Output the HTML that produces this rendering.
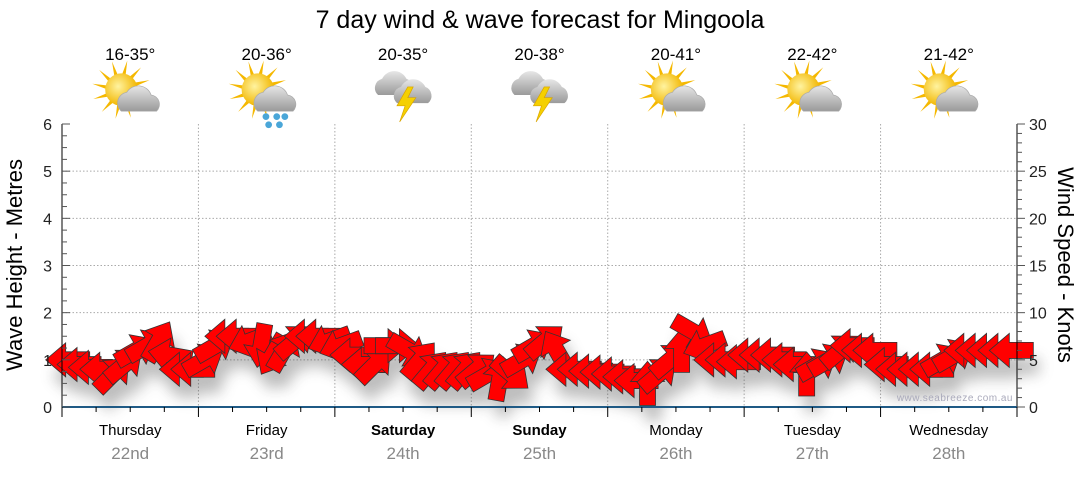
<!DOCTYPE html>
<html><head><meta charset="utf-8"><style>
body{margin:0;background:#fff;width:1080px;height:475px;overflow:hidden;font-family:"Liberation Sans",sans-serif}
</style></head><body>
<svg id="chart" width="1080" height="475" xmlns="http://www.w3.org/2000/svg" font-family="Liberation Sans, sans-serif">
<defs>
<filter id="sh" x="-50%" y="-50%" width="200%" height="200%"><feGaussianBlur stdDeviation="7"/></filter>
<radialGradient id="sun" cx="0.4" cy="0.4" r="0.6"><stop offset="0" stop-color="#fff3a0"/><stop offset="1" stop-color="#f2b600"/></radialGradient>
<linearGradient id="cloud" x1="0" y1="0" x2="0" y2="1"><stop offset="0" stop-color="#e6e6e6"/><stop offset="1" stop-color="#9a9a9a"/></linearGradient>
</defs>
<text x="540" y="28" font-size="25" text-anchor="middle" fill="#000">7 day wind &amp; wave forecast for Mingoola</text>
<g id="grid"></g>
<g id="shadows" filter="url(#sh)" opacity="0.35"></g>
<g id="arrows"></g>
<g id="axes"></g>
<g id="topg"></g>
<text x="1013" y="401" font-size="10" fill="#aab" text-anchor="end" letter-spacing="0.5">www.seabreeze.com.au</text>
<text transform="translate(22,265) rotate(-90)" font-size="22" text-anchor="middle">Wave Height - Metres</text>
<text transform="translate(1058,265) rotate(90)" font-size="22" text-anchor="middle">Wind Speed - Knots</text>
</svg>
<script>
const days=["Thursday","Friday","Saturday","Sunday","Monday","Tuesday","Wednesday"];
const dates=["22nd","23rd","24th","25th","26th","27th","28th"];
const boldDays=[false,false,true,true,false,false,false];
const temps=["16-35°","20-36°","20-35°","20-38°","20-41°","22-42°","21-42°"];
const icons=["sun","rain","storm","storm","sun","sun","sun"];
const waveTicks=[0,1,2,3,4,5,6];
const windTicks=[0,5,10,15,20,25,30];
const windSpeed=[5,4.5,4.2,4,3.5,4.5,6,6.5,7,5.5,4,4,
 5,6.5,7.5,7.5,7,6.5,5.5,6,7,7.5,7.5,7,
 6.5,5.5,4.5,4.5,6.5,6.5,6,5,4,4,4,4,
 4,3.5,3,3.5,5,6.5,7,6,4,4,3.8,3.7,
 3.5,3.2,2.8,2.5,3.5,5,6,8,6.5,5,5,4.8,
 5.5,5.5,5.5,5,4.5,3.5,4.5,5,6,6.5,6,6,
 4.5,4,4,4,4,5,5.5,6,6,6,6,6];
const windDir=[180,180,180,180,45,40,30,30,60,170,180,180,
 30,30,180,180,200,260,240,60,40,180,180,200,
 200,180,180,45,0,0,330,50,50,50,50,50,
 40,30,80,320,30,30,40,120,180,180,180,180,
 180,180,180,90,40,40,90,330,200,180,180,180,
 180,180,180,180,180,90,30,30,40,180,180,180,
 180,180,180,180,180,30,30,180,180,180,180,180];
const NS="http://www.w3.org/2000/svg";
const X0=62,X1=1017,Y0=407,Y6=124;
const dayW=(X1-X0)/7;
const yM=m=>Y0-(Y0-Y6)*m/6;
const yK=k=>yM(k/5);
const xT=h=>X0+dayW*h/24;
function el(t,a,p){const e=document.createElementNS(NS,t);for(const k in a)e.setAttribute(k,a[k]);p.appendChild(e);return e;}
const grid=document.getElementById('grid'),axes=document.getElementById('axes'),topG=document.getElementById('topg');
for(let m=1;m<=5;m++){const l=el('line',{x1:X0,x2:X1,y1:yM(m),y2:yM(m),stroke:'#aaa','stroke-dasharray':'1.5,2'},grid);

}
for(let d=1;d<7;d++){const x=X0+d*dayW;const l=el('line',{x1:x,x2:x,y1:Y6,y2:Y0,stroke:'#aaa','stroke-dasharray':'1.5,2'},grid);

}
el('line',{x1:X0,x2:X0,y1:Y6,y2:Y0+10,stroke:'#000'},axes);
el('line',{x1:X1,x2:X1,y1:Y6,y2:Y0+10,stroke:'#000'},axes);
const base=el('line',{x1:X0,x2:X1,y1:Y0,y2:Y0,stroke:'#1f5a85','stroke-width':2},axes);


for(let i=0;i<=24;i++){const m=i*0.25;const maj=i%4==0;el('line',{x1:X0,x2:X0+(maj?8:5),y1:yM(m),y2:yM(m),stroke:'#555'},axes);}
for(let k=0;k<=30;k++){const maj=k%5==0;el('line',{x1:X1,x2:X1+(maj?8:5),y1:yK(k),y2:yK(k),stroke:'#555'},axes);}
waveTicks.forEach(m=>{const t=el('text',{x:X0-10,y:yM(m)+6,'font-size':16,'text-anchor':'end',fill:'#222'},axes);t.textContent=m;

});
windTicks.forEach(k=>{const t=el('text',{x:X1+12,y:yK(k)+6,'font-size':16,fill:'#222'},axes);t.textContent=k;

});
for(let i=0;i<=28;i++){const x=X0+i*dayW/4;const maj=i%4==0;el('line',{x1:x,x2:x,y1:Y0,y2:Y0+(maj?10:5),stroke:'#000'},axes);}
days.forEach((d,i)=>{const cx=X0+(i+0.5)*dayW;
const t=el('text',{x:cx,y:435,'font-size':15,'text-anchor':'middle',fill:'#000','font-weight':boldDays[i]?'bold':'normal'},axes);t.textContent=d;


const t2=el('text',{x:cx,y:459,'font-size':17,'text-anchor':'middle',fill:'#888'},axes);t2.textContent=dates[i];


const t3=el('text',{x:cx,y:60,'font-size':17,'text-anchor':'middle',fill:'#000'},topG);t3.textContent=temps[i];


const g=el('g',{transform:`translate(${cx+2},95) scale(1.35)`},topG);


if(icons[i]!='storm'){
 for(let a=0;a<360;a+=30){const r=a*Math.PI/180;el('polygon',{points:`${-8+Math.cos(r)*10},${-4+Math.sin(r)*10} ${-8+Math.cos(r+0.2)*22},${-4+Math.sin(r+0.2)*22} ${-8+Math.cos(r+0.3)*10},${-4+Math.sin(r+0.3)*10}`,fill:'#f5b800'},g);}
 el('circle',{cx:-8,cy:-4,r:12,fill:'url(#sun)'},g);
 el('path',{d:'M-8,12 a8,8 0 0 1 4,-14 a10,10 0 0 1 18,2 a7,7 0 0 1 4,12 z',fill:'url(#cloud)',stroke:'#aaa','stroke-width':0.5},g);
 if(icons[i]=='rain'){[[-2,16],[6,16],[12,16],[0,22],[8,22]].forEach(p=>el('circle',{cx:p[0],cy:p[1],r:2.5,fill:'#4aa6d8'},g));}
}else{
 el('path',{d:'M-20,0 a7,7 0 0 1 3,-12 a10,10 0 0 1 18,0 a7,7 0 0 1 2,12 z',fill:'url(#cloud)'},g);
 el('path',{d:'M-6,6 a7,7 0 0 1 3,-12 a10,10 0 0 1 18,0 a7,7 0 0 1 2,12 z',fill:'url(#cloud)'},g);
 el('polygon',{points:'2,-6 -6,8 0,8 -4,20 8,2 2,2 6,-6',fill:'#f5d000',stroke:'#d9a400','stroke-width':0.5},g);
}
});
const arrowsG=document.getElementById('arrows'),shG=document.getElementById('shadows');
const pts="-22,-8 2,-8 2,-17 22,0 2,17 2,8 -22,8";
windSpeed.forEach((s,i)=>{
 const x=xT(i*2+1),y=yK(s);
 el('polygon',{points:pts,transform:`translate(${x+6},${y+16}) rotate(${-windDir[i]})`,fill:'#444'},shG);
 const p=el('polygon',{points:pts,transform:`translate(${x},${y}) rotate(${-windDir[i]})`,fill:'#ff0000',stroke:'#333','stroke-width':0.8},arrowsG);
 
 
});
</script>
</body></html>
